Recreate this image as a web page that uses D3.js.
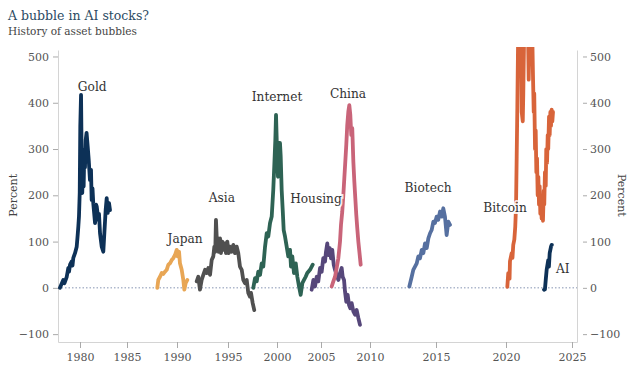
<!DOCTYPE html>
<html>
<head>
<meta charset="utf-8">
<script src="https://cdnjs.cloudflare.com/ajax/libs/d3/7.8.5/d3.min.js"></script>
<style>
body { margin: 0; background: #fff; }
svg text { font-family: "DejaVu Serif", Georgia, serif; }
</style>
</head>
<body>
<svg id="chart"></svg>
<script>
// DATA: [year, percent gain]
/***********************/
var gold = [[1977.87,0],[1978.22,17],[1978.35,10],[1978.59,24],[1978.76,43],[1978.83,35],[1978.94,50],
  [1979.12,57],[1979.20,48],[1979.29,65],[1979.47,75],[1979.65,89],[1979.74,111],[1979.82,132],[1979.89,154],
  [1979.97,205],[1980.03,348],[1980.11,417],[1980.18,276],[1980.24,205],[1980.32,262],[1980.39,219],
  [1980.46,298],[1980.53,260],[1980.61,320],[1980.70,335],[1980.82,305],[1980.93,276],[1981.06,233],
  [1981.17,255],[1981.24,190],[1981.33,215],[1981.41,183],[1981.60,140],[1981.70,180],[1981.78,176],
  [1981.95,147],[1982.02,160],[1982.13,118],[1982.31,89],[1982.48,78],[1982.59,118],[1982.73,168],
  [1982.84,194],[1982.95,162],[1983.09,183],[1983.19,168]];

var japan = [[1988.03,0],[1988.13,17],[1988.30,24],[1988.47,32],[1988.63,30],[1988.80,35],[1988.97,39],
  [1989.13,50],[1989.30,53],[1989.47,60],[1989.63,64],[1989.80,71],[1989.97,82],[1990.07,68],[1990.20,78],
  [1990.29,53],[1990.46,39],[1990.62,17],[1990.72,-4],[1990.85,10],[1991.01,17]];

var asia = [[1991.93,14],[1992.09,24],[1992.25,-4],[1992.42,17],[1992.58,28],[1992.75,39],[1992.91,32],
  [1993.07,43],[1993.24,28],[1993.40,60],[1993.56,68],[1993.66,89],[1993.75,78],[1993.82,147],[1993.89,111],
  [1993.99,89],[1994.09,78],[1994.22,107],[1994.31,75],[1994.44,100],[1994.54,82],[1994.71,96],[1994.80,75],
  [1994.93,100],[1995.07,75],[1995.20,89],[1995.38,78],[1995.54,93],[1995.71,75],[1995.89,89],[1996.05,75],
  [1996.22,46],[1996.40,39],[1996.56,17],[1996.73,10],[1996.91,17],[1997.07,-11],[1997.24,-19],
  [1997.35,-11],[1997.52,-33],[1997.68,-48]];

var internet = [[1997.58,0],[1997.76,21],[1997.93,14],[1998.09,35],[1998.27,28],[1998.44,53],[1998.60,46],
  [1998.78,89],[1998.95,118],[1999.11,111],[1999.29,140],[1999.46,154],[1999.62,212],[1999.72,262],
  [1999.83,320],[1999.90,374],[2000.00,298],[2000.11,240],[2000.23,313],[2000.34,313],[2000.42,284],
  [2000.53,212],[2000.65,168],[2000.76,125],[2000.91,111],[2001.10,89],[2001.28,68],[2001.48,82],
  [2001.59,46],[2001.74,68],[2001.93,32],[2002.13,53],[2002.31,24],[2002.50,3],[2002.69,-15],
  [2002.88,10],[2003.07,17],[2003.26,24],[2003.44,32],[2003.75,39],[2004.06,50]];

var housing = [[2003.94,-4],[2004.13,17],[2004.32,3],[2004.51,24],[2004.69,14],[2004.89,43],[2005.07,35],
  [2005.23,64],[2005.41,57],[2005.51,78],[2005.64,96],[2005.74,71],[2005.89,86],[2006.02,64],[2006.15,82],
  [2006.30,50],[2006.43,39],[2006.60,28],[2006.77,17],[2006.94,32],[2007.11,43],[2007.21,24],[2007.35,17],
  [2007.45,-8],[2007.58,-30],[2007.72,-15],[2007.86,-37],[2007.99,-44],[2008.13,-33],[2008.30,-51],
  [2008.47,-58],[2008.64,-48],[2008.81,-65],[2008.98,-80]];

var china = [[2006.09,3],[2006.26,14],[2006.43,24],[2006.60,43],[2006.77,64],[2006.94,100],[2007.04,136],
  [2007.17,165],[2007.28,201],[2007.38,237],[2007.48,273],[2007.58,309],[2007.68,352],[2007.79,381],
  [2007.89,395],[2007.99,374],[2008.09,330],[2008.19,345],[2008.30,273],[2008.40,230],[2008.50,194],
  [2008.60,158],[2008.70,129],[2008.81,100],[2008.95,71],[2009.05,50]];

var biotech = [[2012.98,3],[2013.16,24],[2013.28,39],[2013.41,46],[2013.54,53],[2013.66,68],[2013.79,64],
  [2013.92,82],[2014.04,75],[2014.17,96],[2014.30,86],[2014.42,107],[2014.55,118],[2014.67,125],
  [2014.80,143],[2014.92,140],[2015.05,154],[2015.16,147],[2015.29,165],[2015.41,154],[2015.52,172],
  [2015.64,154],[2015.76,114],[2015.88,143],[2016.00,136]];

var bitcoin = [[2020.10,2],[2020.17,32],[2020.27,20],[2020.30,57],[2020.43,75],[2020.49,65],[2020.55,93],
  [2020.63,104],[2020.70,132],[2020.76,176],[2020.81,284],[2020.86,392],[2020.91,520],[2020.98,560],
  [2021.06,540],[2021.14,600],[2021.19,380],[2021.27,360],[2021.31,420],[2021.39,580],[2021.48,620],
  [2021.57,560],[2021.64,600],[2021.72,450],[2021.77,520],[2021.82,600],[2021.89,560],[2021.97,580],
  [2022.05,450],[2022.10,380],[2022.14,420],[2022.20,300],[2022.25,340],[2022.30,250],[2022.35,280],
  [2022.40,200],[2022.45,240],[2022.50,180],[2022.55,220],[2022.60,160],[2022.65,200],[2022.70,150],
  [2022.75,190],[2022.80,145],[2022.86,210],[2022.90,180],[2022.95,250],[2023.01,220],[2023.05,300],
  [2023.11,270],[2023.16,330],[2023.20,300],[2023.26,370],[2023.31,330],[2023.36,380],[2023.41,350],
  [2023.46,385],[2023.51,360],[2023.56,380]];

var ai = [[2022.88,-4],[2022.95,-3],[2023.01,17],[2023.08,39],[2023.16,53],[2023.20,60],[2023.25,46],
  [2023.31,75],[2023.41,89],[2023.46,93],[2023.48,93]];

var names = ["Gold", "Japan", "Asia", "Internet", "Housing", "China", "Biotech", "Bitcoin", "AI"];
var labelYears = [1981.3, 1990.8, 1994.4, 2000.0, 2004.43, 2007.76, 2014.4, 2019.93, 2024.3];
var labelValues = [425, 97, 186, 404, 183, 410, 207, 164, 32];

var xTicks = [1980, 1985, 1990, 1995, 2000, 2005, 2010, 2015, 2020, 2025];
var yTicks = [-100, 0, 100, 200, 300, 400, 500];

var colors = ["#0d3157", "#e8a655", "#505050", "#2e6354", "#56477a",
  "#c96479", "#5670a0", "#d8643a", "#0d3157"];

// CHART
/***********************/
var WIDTH = 635,
    HEIGHT = 378;

var svg = d3.select("#chart")
    .attr("width", WIDTH)
    .attr("height", HEIGHT);

// the year axis is not evenly spaced in the original, so it is piecewise
var x = d3.scaleLinear()
    .domain([1977.66].concat(xTicks, [2025.36]))
    .range([58, 80, 127, 177, 228, 277, 321, 370, 436, 506, 572, 577]);

var y = d3.scaleLinear()
    .domain([-117, 514])
    .range([342, 50]);

svg.append("text")
    .attr("x", 8)
    .attr("y", 20)
    .style("font-size", "12.5px")
    .style("fill", "#2c4b63")
    .text("A bubble in AI stocks?");

svg.append("text")
    .attr("x", 8)
    .attr("y", 35)
    .style("font-size", "10.5px")
    .style("fill", "#444")
    .text("History of asset bubbles");

svg.append("defs").append("clipPath")
    .attr("id", "clip")
  .append("rect")
    .attr("x", x.range()[0])
    .attr("y", 47)
    .attr("width", x.range()[11] - x.range()[0])
    .attr("height", y(-117) - 47);

// axes
var xAxis = svg.append("g")
    .attr("transform", "translate(0," + y(-117) + ")")
    .call(d3.axisBottom(x).tickValues(xTicks).tickFormat(d3.format("d"))
      .tickSizeInner(6).tickSizeOuter(0).tickPadding(5));

var yAxis = svg.append("g")
    .attr("transform", "translate(" + x(1977.66) + ",0)")
    .call(d3.axisLeft(y).tickValues(yTicks).tickSizeInner(5).tickSizeOuter(0).tickPadding(4));

var yAxisR = svg.append("g")
    .attr("transform", "translate(" + x(2025.36) + ",0)")
    .call(d3.axisRight(y).tickValues(yTicks).tickSizeInner(0).tickSizeOuter(0).tickPadding(13));
yAxisR.selectAll(".tick line").attr("x1", 6).attr("x2", 10);

svg.selectAll(".domain").attr("stroke", "#d4d4d4");
svg.selectAll(".tick line").attr("stroke", "#aaa");
svg.selectAll(".tick text")
    .style("font-size", "11px")
    .style("fill", "#555");

svg.append("text")
    .attr("transform", "translate(17," + y(200) + ")rotate(-90)")
    .attr("text-anchor", "middle")
    .style("font-size", "11px")
    .style("fill", "#444")
    .text("Percent");

svg.append("text")
    .attr("transform", "translate(618," + y(200) + ")rotate(90)")
    .attr("text-anchor", "middle")
    .style("font-size", "11px")
    .style("fill", "#444")
    .text("Percent");

// zero line
svg.append("line")
    .attr("x1", x(1977.66))
    .attr("x2", x(2025.36))
    .attr("y1", y(0))
    .attr("y2", y(0))
    .attr("stroke", "#aeb8cc")
    .attr("stroke-width", 1.5)
    .attr("stroke-dasharray", "1.5,2");

var line = d3.line()
    .x(function(d) { return x(d[0]); })
    .y(function(d) { return y(d[1]); });

var allSeries = [gold, japan, asia, internet, housing, china, biotech, bitcoin, ai];

svg.append("g")
    .attr("clip-path", "url(#clip)")
  .selectAll("path")
    .data(allSeries)
  .enter().append("path")
    .attr("d", line)
    .attr("fill", "none")
    .attr("stroke", function(d, i) { return colors[i]; })
    .attr("stroke-width", 3.8)
    .attr("stroke-linejoin", "round")
    .attr("stroke-linecap", "round");

svg.append("g")
  .selectAll("text")
    .data(names)
  .enter().append("text")
    .attr("x", function(d, i) { return x(labelYears[i]); })
    .attr("y", function(d, i) { return y(labelValues[i]); })
    .attr("text-anchor", "middle")
    .style("font-size", "12.2px")
    .style("fill", "#333")
    .style("stroke", "rgba(255,255,255,0.85)")
    .style("stroke-width", 4)
    .style("paint-order", "stroke")
    .text(function(d) { return d; });
</script>
</body>
</html>
